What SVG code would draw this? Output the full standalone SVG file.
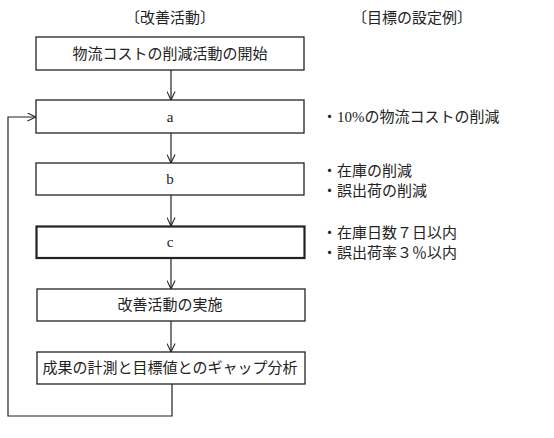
<svg xmlns="http://www.w3.org/2000/svg" width="554" height="438" viewBox="0 0 554 438">
<style>
.box{fill:#fff;stroke:#222;stroke-width:1.3}
.thick{stroke-width:2.2}
.t{font-family:"Liberation Serif","Noto Sans CJK JP",serif;font-size:15px;fill:#222}
.m{text-anchor:middle}
.c{fill:none;stroke:#222;stroke-width:1.2}
</style>
<defs>
<marker id="ah" viewBox="0 0 10 10" refX="9.5" refY="5" markerWidth="9" markerHeight="9" markerUnits="userSpaceOnUse" orient="auto">
<path d="M0,0.5 L9.5,5 L0,9.5" fill="none" stroke="#222" stroke-width="1.2"/>
</marker>
</defs>
<rect width="554" height="438" fill="#fff"/>
<text class="t m" x="170" y="23">〔改善活動〕</text>
<text class="t m" x="412" y="23">〔目標の設定例〕</text>
<g id="connectors">
<line class="c" x1="171" y1="70" x2="171" y2="100" marker-end="url(#ah)"/>
<line class="c" x1="171" y1="133" x2="171" y2="163" marker-end="url(#ah)"/>
<line class="c" x1="171" y1="195" x2="171" y2="226" marker-end="url(#ah)"/>
<line class="c" x1="171" y1="258" x2="171" y2="289" marker-end="url(#ah)"/>
<line class="c" x1="171" y1="321" x2="171" y2="352" marker-end="url(#ah)"/>
<polyline class="c" points="172,384 172,416 8,416 8,117 36,117" marker-end="url(#ah)"/>
</g>
<g id="start">
<rect class="box" x="36" y="37" width="268" height="33"/>
<text class="t m" x="170" y="59">物流コストの削減活動の開始</text>
</g>
<g id="a">
<rect class="box" x="36" y="100" width="268" height="33"/>
<text class="t m" x="170" y="122">a</text>
</g>
<g id="b">
<rect class="box" x="36" y="163" width="268" height="32"/>
<text class="t m" x="170" y="184">b</text>
</g>
<g id="c">
<rect class="box thick" x="36.5" y="226.5" width="268" height="31.5"/>
<text class="t m" x="170" y="247">c</text>
</g>
<g id="implement">
<rect class="box" x="37" y="289" width="268" height="32"/>
<text class="t m" x="170" y="310">改善活動の実施</text>
</g>
<g id="measure">
<rect class="box" x="37" y="352" width="268" height="32"/>
<text class="t m" x="170" y="373">成果の計測と目標値とのギャップ分析</text>
</g>
<g id="goals">
<text class="t" x="322" y="122">・10%の物流コストの削減</text>
<text class="t" x="322" y="176">・在庫の削減</text>
<text class="t" x="322" y="196">・誤出荷の削減</text>
<text class="t" x="322" y="238">・在庫日数７日以内</text>
<text class="t" x="322" y="258">・誤出荷率３％以内</text>
</g>
</svg>
